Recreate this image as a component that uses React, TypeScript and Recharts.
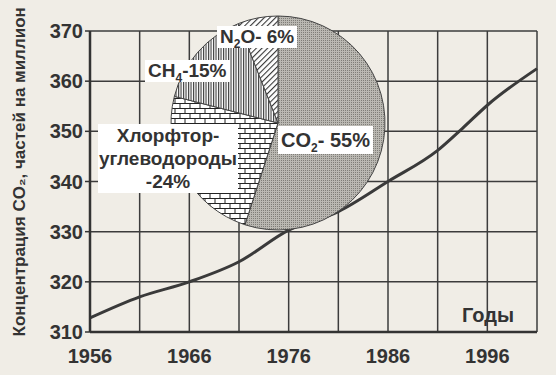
import { CartesianGrid, Line, LineChart, Pie, PieChart, XAxis, YAxis } from 'recharts';

const years = [1956, 1961, 1966, 1971, 1976, 1981, 1986, 1991, 1993.5, 1996, 2001];
const co2 = [312.8, 317, 320, 324, 330.3, 334, 340, 346.2, 350.6, 355.2, 362.5];

const gridYears = [1956, 1961, 1966, 1971, 1976, 1981, 1986, 1991, 1996, 2001];
const labelYears = [1956, 1966, 1976, 1986, 1996];
const yTicks = [310, 320, 330, 340, 350, 360, 370];

const gases = ['CO2', 'CFC', 'CH4', 'N2O'];
const shares = [55, 24, 15, 6];
const fills = ['url(#dots)', 'url(#bricks)', 'url(#vlines)', 'url(#diag)'];

const lineData = years.map((year, i) => ({ year, value: co2[i] }));
const pieData = gases.map((name, i) => ({ name, value: shares[i], fill: fills[i] }));

const BG = '#f0ede6';
const INK = '#333';
const FONT = '"Liberation Sans", Arial, sans-serif';

function XTick({ x, y, payload }: any) {
  if (!labelYears.includes(payload.value)) return null;
  return (
    <text x={x} y={y + 23} textAnchor="middle" fontSize={20} fontWeight="bold" fill={INK} fontFamily={FONT}>
      {payload.value}
    </text>
  );
}

const boxStyle: React.CSSProperties = {
  position: 'absolute',
  background: '#fff',
  fontFamily: FONT,
  fontWeight: 'bold',
  fontSize: 19,
  color: INK,
  lineHeight: '22px',
  padding: '0 3px',
  whiteSpace: 'nowrap',
};

const sub: React.CSSProperties = { fontSize: 12, lineHeight: 0 };

export default function App() {
  return (
    <div style={{ position: 'relative', width: 556, height: 375, background: BG, overflow: 'hidden' }}>
      <style>{'body{margin:0}'}</style>
      <LineChart width={556} height={375} data={lineData} margin={{ top: 31, right: 19, bottom: 0, left: 0 }}>
        <CartesianGrid stroke="#3c3c3c" strokeWidth={1.5} horizontalValues={yTicks} verticalValues={gridYears} />
        <XAxis
          dataKey="year"
          type="number"
          domain={[1956, 2001]}
          ticks={gridYears}
          tick={<XTick />}
          tickLine={false}
          axisLine={{ stroke: INK, strokeWidth: 2.5 }}
          height={43}
          interval={0}
        />
        <YAxis
          type="number"
          domain={[310, 370]}
          ticks={yTicks}
          width={90}
          interval={0}
          tickSize={5}
          tickLine={{ stroke: INK, strokeWidth: 1.5 }}
          axisLine={{ stroke: INK, strokeWidth: 2.5 }}
          tick={{ fontSize: 20, fontWeight: 'bold', fill: INK, fontFamily: FONT }}
          label={{
            value: 'Концентрация CO₂, частей на миллион',
            angle: -90,
            position: 'insideLeft',
            dx: 14,
            dy: 155,
            style: { fontSize: 17, fontWeight: 'bold', fill: INK, fontFamily: FONT, textAnchor: 'start' },
          }}
        />
        <Line
          dataKey="value"
          type="monotone"
          stroke="#3a3a3a"
          strokeWidth={3}
          dot={false}
          isAnimationActive={false}
        />
      </LineChart>

      <div style={{ position: 'absolute', left: 153, top: -2 }}>
        <PieChart width={240} height={240}>
          <defs>
            <pattern id="dots" width="2" height="2" patternUnits="userSpaceOnUse">
              <rect width="2" height="2" fill="#bab8b2" />
              <rect width="1" height="1" fill="#7f7d78" />
            </pattern>
            <pattern id="bricks" width="10" height="10" patternUnits="userSpaceOnUse">
              <rect width="10" height="10" fill="#fff" />
              <path d="M0 0.5H10M0 5.5H10M2 0V5M7 5V10" stroke="#222" strokeWidth="1" />
            </pattern>
            <pattern id="vlines" width="2.5" height="4" patternUnits="userSpaceOnUse">
              <rect width="2.5" height="4" fill="#fff" />
              <path d="M0.6 0V4" stroke="#222" strokeWidth="1" />
            </pattern>
            <pattern id="diag" width="4" height="4" patternUnits="userSpaceOnUse" patternTransform="rotate(45)">
              <rect width="4" height="4" fill="#fff" />
              <path d="M0.6 0V4" stroke="#222" strokeWidth="1" />
            </pattern>
          </defs>
          <Pie
            data={pieData}
            dataKey="value"
            nameKey="name"
            cx={120}
            cy={120}
            outerRadius={107}
            startAngle={90}
            endAngle={-270}
            stroke="#444"
            strokeWidth={1}
            isAnimationActive={false}
          />
        </PieChart>
      </div>

      <div style={{ ...boxStyle, left: 217, top: 26 }}>
        N<sub style={sub}>2</sub>O- 6%
      </div>
      <div style={{ ...boxStyle, left: 145, top: 60 }}>
        CH<sub style={sub}>4</sub>-15%
      </div>
      <div style={{ ...boxStyle, left: 278, top: 126, fontSize: 20, lineHeight: '28px' }}>
        CO<sub style={sub}>2</sub>- 55%
      </div>
      <div style={{ ...boxStyle, left: 98, top: 124, textAlign: 'center', lineHeight: '23px', padding: '0 1px' }}>
        Хлорфтор-
        <br />
        углеводороды
        <br />
        -24%
      </div>
      <div
        style={{
          position: 'absolute',
          left: 462,
          top: 304,
          fontFamily: FONT,
          fontWeight: 'bold',
          fontSize: 20,
          color: INK,
        }}
      >
        Годы
      </div>
    </div>
  );
}
